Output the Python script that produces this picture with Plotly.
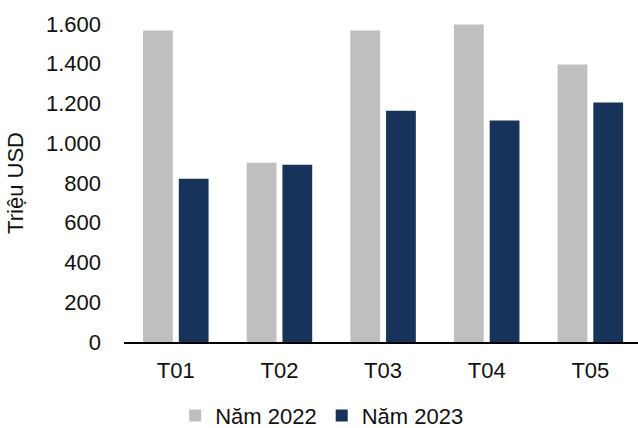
import plotly.graph_objects as go

categories = ["T01", "T02", "T03", "T04", "T05"]
nam_2022 = [1567, 902, 1567, 1598, 1396]
nam_2023 = [821, 892, 1164, 1114, 1205]
y_ticks = [0, 200, 400, 600, 800, 1000, 1200, 1400, 1600]

FONT = "Liberation Sans, Arial, sans-serif"

fig = go.Figure()
fig.add_trace(go.Bar(x=categories, y=nam_2022, name="Năm 2022", marker=dict(color="#BFBFBF", line=dict(width=0))))
fig.add_trace(go.Bar(x=categories, y=nam_2023, name="Năm 2023", marker=dict(color="#17335A", line=dict(width=0))))

fig.update_layout(
    width=638, height=428,
    margin=dict(l=124, r=0, t=24, b=86, autoexpand=False),
    plot_bgcolor="white", paper_bgcolor="white",
    separators=",.",
    barmode="group", bargap=0.31, bargroupgap=0.167,
    font=dict(family=FONT, size=22, color="#111111"),
    showlegend=True,
    legend=dict(orientation="h", xref="container", x=0.505, xanchor="center",
                yref="paper", y=-0.232, yanchor="middle",
                font=dict(size=22), itemwidth=30, tracegroupgap=0),
)
fig.update_xaxes(
    range=[-0.5, 4.46], showline=True, linecolor="black", linewidth=2,
    showgrid=False, ticks="", ticklabelstandoff=8, zeroline=False,
)
fig.update_yaxes(
    range=[0, 1600], tickvals=y_ticks, tickformat=",d", showgrid=False, zeroline=False,
    showline=False, ticks="", ticklabelstandoff=22,
    title=dict(text="Triệu USD", font=dict(size=22), standoff=16),
)

fig.write_html("out.html")
